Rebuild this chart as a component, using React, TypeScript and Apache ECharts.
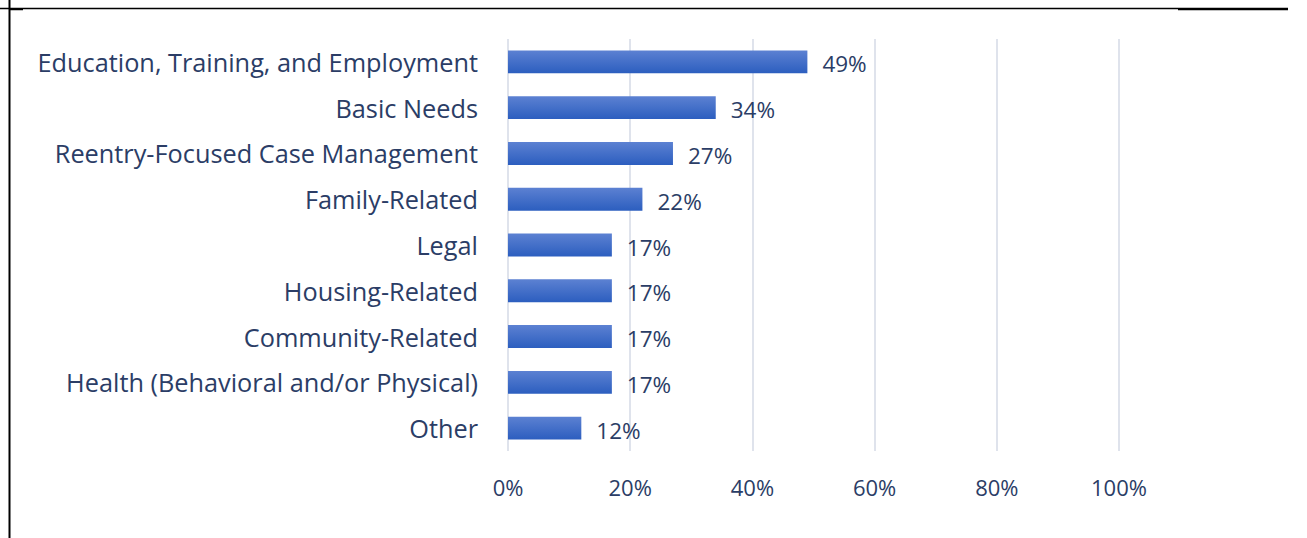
import React, { useEffect, useRef } from "react";
import * as echarts from "echarts";

const categories = [
  "Education, Training, and Employment",
  "Basic Needs",
  "Reentry-Focused Case Management",
  "Family-Related",
  "Legal",
  "Housing-Related",
  "Community-Related",
  "Health (Behavioral and/or Physical)",
  "Other",
];
const values = [49, 34, 27, 22, 17, 17, 17, 17, 12];
const xTicks = [0, 20, 40, 60, 80, 100];

const TEXT = "#2b3d66";
const FONT = "'Open Sans', 'Noto Sans', sans-serif";

export default function App() {
  const ref = useRef<HTMLDivElement>(null);
  useEffect(() => {
    if (!ref.current) return;
    const chart = echarts.init(ref.current, undefined, { renderer: "svg" });
    chart.setOption({
      animation: false,
      backgroundColor: "#ffffff",
      grid: { left: 508, right: 188, top: 39, bottom: 87, containLabel: false },
      xAxis: {
        type: "value",
        min: xTicks[0],
        max: xTicks[xTicks.length - 1],
        interval: 20,
        axisLine: { show: false },
        axisTick: { show: false },
        splitLine: { show: true, lineStyle: { color: "#dfe3ec", width: 2 } },
        axisLabel: {
          formatter: (v: number) => v + "%",
          color: TEXT,
          fontFamily: FONT,
          fontSize: 22,
          margin: 25,
        },
      },
      yAxis: {
        type: "category",
        data: categories,
        inverse: true,
        axisLine: { show: false },
        axisTick: { show: false },
        splitLine: { show: false },
        axisLabel: {
          color: TEXT,
          fontFamily: FONT,
          fontSize: 25.3,
          margin: 30,
        },
      },
      series: [
        {
          type: "bar",
          data: values,
          barCategoryGap: "50%",
          itemStyle: {
            color: new echarts.graphic.LinearGradient(0, 0, 0, 1, [
              { offset: 0, color: "#5c81d2" },
              { offset: 1, color: "#2c5ebf" },
            ]),
          },
          label: {
            show: true,
            position: "right",
            distance: 15,
            formatter: (p: any) => p.value + "%",
            color: TEXT,
            fontFamily: FONT,
            fontSize: 22.5,
            offset: [0, 2],
          },
        },
      ],
      graphic: [
        { type: "line", shape: { x1: 0, y1: 8.5, x2: 1178, y2: 8.5 }, style: { stroke: "#000", lineWidth: 1.5 } },
        { type: "line", shape: { x1: 1178, y1: 9, x2: 1288, y2: 9 }, style: { stroke: "#000", lineWidth: 2.5 } },
        { type: "line", shape: { x1: 9.5, y1: 0, x2: 9.5, y2: 538 }, style: { stroke: "#000", lineWidth: 2 } },
        { type: "line", shape: { x1: 10, y1: 9.5, x2: 23, y2: 9.5 }, style: { stroke: "#000", lineWidth: 1.5 } },
      ],
    });
    return () => chart.dispose();
  }, []);
  return (
    <div
      ref={ref}
      style={{ position: "fixed", left: 0, top: 0, width: 1307, height: 538 }}
    />
  );
}
